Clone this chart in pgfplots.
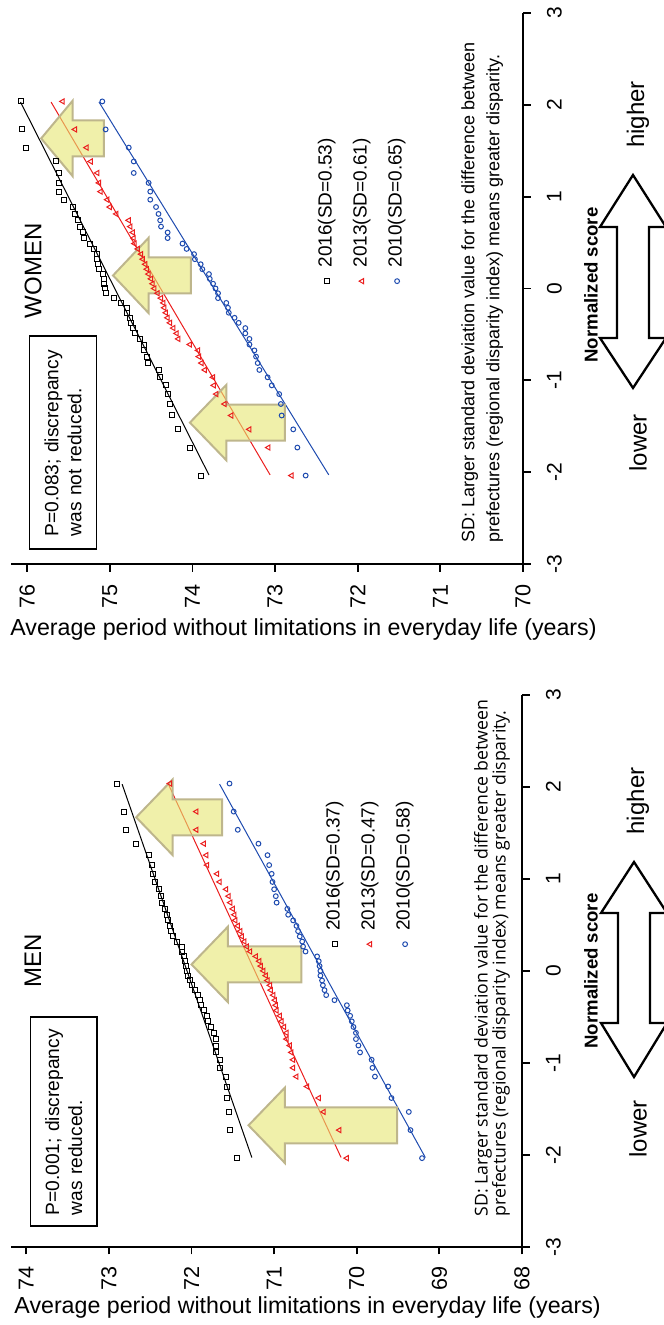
\documentclass[border=0pt]{standalone}
\usepackage{graphicx}
\usepackage{fontspec}
\setmainfont{Liberation Sans}
\newfontfamily\opensans{Open Sans}
\usepackage{pgfplots}
\pgfplotsset{compat=1.18}
\usepackage{pgfplotstable}
\definecolor{ptred}{RGB}{235,30,30}
\definecolor{ptblue}{RGB}{30,75,175}
\definecolor{arrfill}{RGB}{230,230,113}
\definecolor{arredge}{RGB}{190,182,140}
\tikzset{bigarr/.style={fill=arrfill, fill opacity=0.6, draw=arredge, line width=1pt, line join=miter}}

\pgfplotstableread{
s y16 y13 y10
-2.037 73.90 72.80 72.63
-1.732 74.03 73.08 72.73
-1.534 74.18 73.31 72.78
-1.383 74.25 73.53 72.92
-1.258 74.27 73.61 72.93
-1.150 74.30 73.71 72.95
-1.055 74.32 73.74 73.04
-0.967 74.39 73.75 73.09
-0.887 74.41 73.85 73.19
-0.812 74.54 73.89 73.21
-0.742 74.55 73.92 73.23
-0.674 74.58 73.93 73.25
-0.610 74.58 74.03 73.31
-0.549 74.64 74.17 73.31
-0.489 74.69 74.19 73.36
-0.431 74.72 74.23 73.36
-0.374 74.74 74.27 73.44
-0.319 74.76 74.30 73.49
-0.264 74.79 74.32 73.56
-0.210 74.79 74.34 73.57
-0.157 74.87 74.35 73.59
-0.105 74.95 74.38 73.69
-0.052 75.05 74.42 73.69
0.000 75.06 74.46 73.72
0.052 75.07 74.48 73.75
0.105 75.07 74.50 73.79
0.157 75.08 74.53 73.80
0.210 75.13 74.55 73.88
0.264 75.14 74.57 73.90
0.319 75.15 74.60 73.97
0.374 75.16 74.62 73.98
0.431 75.19 74.66 74.07
0.489 75.24 74.70 74.12
0.549 75.31 74.71 74.30
0.610 75.32 74.72 74.30
0.674 75.36 74.75 74.38
0.742 75.38 74.77 74.39
0.812 75.42 74.92 74.41
0.887 75.44 75.00 74.44
0.967 75.55 75.03 74.51
1.055 75.61 75.11 74.51
1.150 75.61 75.13 74.53
1.258 75.62 75.15 74.71
1.383 75.65 75.23 74.71
1.534 76.01 75.28 74.77
1.732 76.06 75.42 75.05
2.037 76.08 75.57 75.09
}\women

\pgfplotstableread{
s y16 y13 y10
-2.037 71.45 70.12 69.21
-1.732 71.54 70.21 69.35
-1.534 71.55 70.40 69.37
-1.383 71.57 70.46 69.58
-1.258 71.57 70.60 69.62
-1.150 71.58 70.73 69.78
-1.055 71.65 70.77 69.81
-0.967 71.66 70.77 69.82
-0.887 71.70 70.79 69.96
-0.812 71.70 70.81 69.98
-0.742 71.70 70.85 70.01
-0.674 71.73 70.85 70.01
-0.610 71.77 70.88 70.04
-0.549 71.80 70.91 70.06
-0.489 71.81 70.93 70.08
-0.431 71.85 70.97 70.11
-0.374 71.89 70.98 70.12
-0.319 71.90 70.99 70.27
-0.264 71.92 71.01 70.37
-0.210 71.96 71.04 70.39
-0.157 72.00 71.05 70.41
-0.105 72.02 71.08 70.42
-0.052 72.04 71.10 70.44
0.000 72.05 71.13 70.44
0.052 72.07 71.16 70.45
0.105 72.08 71.18 70.46
0.157 72.09 71.22 70.48
0.210 72.11 71.29 70.62
0.264 72.12 71.33 70.65
0.319 72.17 71.36 70.66
0.374 72.23 71.39 70.69
0.431 72.25 71.41 70.71
0.489 72.26 71.44 70.73
0.549 72.29 71.47 70.77
0.610 72.30 71.48 70.83
0.674 72.32 71.50 70.84
0.742 72.36 71.53 70.97
0.812 72.37 71.55 70.98
0.887 72.39 71.58 71.00
0.967 72.44 71.66 71.02
1.055 72.47 71.69 71.03
1.150 72.48 71.81 71.06
1.258 72.51 71.82 71.08
1.383 72.67 71.85 71.19
1.534 72.79 71.94 71.44
1.732 72.82 71.94 71.49
2.037 72.90 72.26 71.54
}\men

\pgfplotsset{
  panel/.style={
    scale only axis, anchor=south west, xmin=-3, xmax=3,
    axis x line*=bottom, axis y line*=left,
    xtick={-3,-2,-1,0,1,2,3}, xticklabels={-3,-2,-1,0,1,2,3},
    tick align=outside, major tick length=3.8pt,
    axis line style={line width=0.9pt},
    tick style={line width=0.9pt, black},
    xticklabel style={anchor=north, inner sep=0pt, yshift=-8pt, font=\fontsize{10.5}{12}\selectfont},
    yticklabel style={anchor=east, inner sep=0pt, xshift=-6pt, font=\fontsize{10.8}{12}\selectfont},
    clip=false,
    legend cell align=left,
    legend style={draw=none, fill=none, anchor=west,
      font=\fontsize{9.5}{11}\selectfont, row sep=8.2pt, column sep=5.5pt,
      nodes={inner sep=0pt, text height=6.9pt, text depth=2.4pt}},
  },
  s16/.style={only marks, mark=square, mark size=1.25pt, mark options={line width=0.5pt, solid}, black,
    legend image code/.code={\draw[##1] plot coordinates {(0pt,0pt)};}},
  s13/.style={only marks, mark=triangle, mark size=1.5pt, mark options={line width=0.5pt, solid}, ptred,
    legend image code/.code={\draw[##1] plot coordinates {(0pt,0pt)};}},
  s10/.style={only marks, mark=o, mark size=1.2pt, mark options={line width=0.5pt, solid}, ptblue,
    legend image code/.code={\draw[##1] plot coordinates {(0pt,0pt)};}},
}

\begin{document}
\rotatebox{90}{%
\begin{tikzpicture}
\path[use as bounding box] (0,0) rectangle (662.5pt,331.5pt);
% ---------------- WOMEN ----------------
\begin{axis}[panel, at={(380.5pt,70pt)}, width=275.5pt, height=256.2pt,
  ymin=70, ymax=76.2, ytick={70,71,72,73,74,75,76}, yticklabels={70,71,72,73,74,75,76},
  legend style={at={(0.497,0.314)}}]
\addplot[s16] table[x=s,y=y16]{\women};
\addplot[s13] table[x=s,y=y13]{\women};
\addplot[s10] table[x=s,y=y10]{\women};
\legend{2016(SD=0.53),2013(SD=0.61),2010(SD=0.65)}
\addplot[black, line width=0.5pt, forget plot] coordinates {(-2.03,73.80) (2.03,76.08)};
\addplot[ptred, line width=0.5pt, forget plot] coordinates {(-2.03,73.06) (2.03,75.71)};
\addplot[ptblue, line width=0.5pt, forget plot] coordinates {(-2.03,72.35) (2.03,75.13)};
\draw[bigarr] (axis cs:1.634,75.83) -- (axis cs:2.044,75.45) -- (axis cs:1.830,75.45) -- (axis cs:1.830,75.07) -- (axis cs:1.438,75.07) -- (axis cs:1.438,75.45) -- (axis cs:1.224,75.45) -- cycle;
\draw[bigarr] (axis cs:0.142,74.96) -- (axis cs:0.552,74.53) -- (axis cs:0.338,74.53) -- (axis cs:0.338,74.02) -- (axis cs:-0.054,74.02) -- (axis cs:-0.054,74.53) -- (axis cs:-0.268,74.53) -- cycle;
\draw[bigarr] (axis cs:-1.46,74.03) -- (axis cs:-1.05,73.59) -- (axis cs:-1.264,73.59) -- (axis cs:-1.264,72.88) -- (axis cs:-1.656,72.88) -- (axis cs:-1.656,73.59) -- (axis cs:-1.87,73.59) -- cycle;
\end{axis}
% ---------------- MEN ----------------
\begin{axis}[panel, at={(39.15pt,70.5pt)}, width=275.85pt, height=255.7pt,
  ymin=68, ymax=74.19, ytick={68,69,70,71,72,73,74}, yticklabels={68,69,70,71,72,73,74},
  legend style={at={(0.532,0.297)}}]
\addplot[s16] table[x=s,y=y16]{\men};
\addplot[s13] table[x=s,y=y13]{\men};
\addplot[s10] table[x=s,y=y10]{\men};
\legend{2016(SD=0.37),2013(SD=0.47),2010(SD=0.58)}
\addplot[black, line width=0.5pt, forget plot] coordinates {(-2.03,71.27) (2.03,72.84)};
\addplot[ptred, line width=0.5pt, forget plot] coordinates {(-2.03,70.19) (2.03,72.28)};
\addplot[ptblue, line width=0.5pt, forget plot] coordinates {(-2.03,69.17) (2.03,71.66)};
\draw[bigarr] (axis cs:1.67,72.67) -- (axis cs:2.08,72.23) -- (axis cs:1.866,72.23) -- (axis cs:1.866,71.63) -- (axis cs:1.474,71.63) -- (axis cs:1.474,72.23) -- (axis cs:1.26,72.23) -- cycle;
\draw[bigarr] (axis cs:0.07,72.00) -- (axis cs:0.48,71.56) -- (axis cs:0.266,71.56) -- (axis cs:0.266,70.67) -- (axis cs:-0.126,70.67) -- (axis cs:-0.126,71.56) -- (axis cs:-0.34,71.56) -- cycle;
\draw[bigarr] (axis cs:-1.68,71.31) -- (axis cs:-1.27,70.87) -- (axis cs:-1.484,70.87) -- (axis cs:-1.484,69.51) -- (axis cs:-1.876,69.51) -- (axis cs:-1.876,70.87) -- (axis cs:-2.09,70.87) -- cycle;
\end{axis}

% ---------- annotations WOMEN ----------
\node[font=\fontsize{12}{14}\selectfont] at (527pt,315pt) {WOMEN};
\node[draw, line width=0.75pt, minimum width=106.5pt, minimum height=33.4pt,
  inner xsep=6.25pt, text width=94pt, align=left, font=\fontsize{9.6}{11.5}\selectfont]
  at (441.25pt,300pt) {P=0.083; discrepancy\\was not reduced.};
\node[anchor=north west, inner sep=0pt, align=left, font=\fontsize{9}{12.5}\selectfont]
  at (391pt,101pt) {SD: Larger standard deviation value for the difference between\\prefectures (regional disparity index) means greater disparity.};
\draw[line width=1.15pt, fill=white, line join=miter] (575pt,15pt) -- (549pt,-1.5pt) -- (549pt,7pt) -- (493.5pt,7pt) -- (493.5pt,-1.5pt) -- (468.5pt,15pt) -- (493.5pt,31.5pt) -- (493.5pt,23pt) -- (549pt,23pt) -- (549pt,31.5pt) -- cycle;
\node[font=\bfseries\fontsize{9.3}{11}\selectfont] at (520pt,36pt) {Normalized score};
\node[font=\fontsize{12}{14}\selectfont] at (605.25pt,12.5pt) {higher};
\node[font=\fontsize{12}{14}\selectfont] at (441pt,12.5pt) {lower};
\node[rotate=-90, font=\fontsize{11.6}{13}\selectfont] at (347.5pt,179.75pt) {Average period without limitations in everyday life (years)};

% ---------- annotations MEN ----------
\node[font=\fontsize{12}{14}\selectfont] at (182pt,315pt) {MEN};
\node[draw, line width=0.75pt, minimum width=104.5pt, minimum height=33.4pt,
  inner xsep=5.25pt, text width=94pt, align=left, font=\fontsize{9.6}{11.5}\selectfont]
  at (101.75pt,299.6pt) {P=0.001; discrepancy\\was reduced.};
\node[anchor=north west, inner sep=0pt, align=left, font=\opensans\fontsize{8.85}{9}\selectfont]
  at (54pt,94.7pt) {SD: Larger standard deviation value for the difference between\\prefectures (regional disparity index) means greater disparity.};
\draw[line width=1.15pt, fill=white, line join=miter] (231.5pt,14.5pt) -- (206pt,-2pt) -- (206pt,6.5pt) -- (151pt,6.5pt) -- (151pt,-2pt) -- (124pt,14.5pt) -- (151pt,31pt) -- (151pt,22.5pt) -- (206pt,22.5pt) -- (206pt,31pt) -- cycle;
\node[font=\bfseries\fontsize{9.3}{11}\selectfont] at (177pt,36pt) {Normalized score};
\node[font=\fontsize{12}{14}\selectfont] at (262pt,12.5pt) {higher};
\node[font=\fontsize{12}{14}\selectfont] at (98pt,12.5pt) {lower};
\node[rotate=-90, font=\fontsize{11.6}{13}\selectfont] at (8.5pt,177.7pt) {Average period without limitations in everyday life (years)};
\end{tikzpicture}}
\end{document}
